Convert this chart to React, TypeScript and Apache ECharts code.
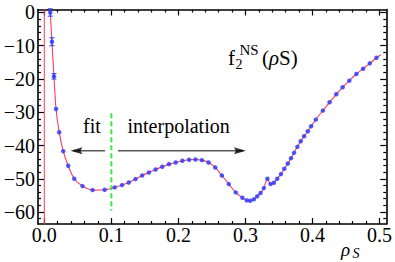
import { useEffect, useRef } from "react";
import * as echarts from "echarts";

// ---- data ----
const rhoS = [
  0.0089, 0.0114, 0.0144, 0.0175, 0.0222, 0.0282, 0.0357, 0.0447, 0.057, 0.072,
  0.09, 0.105, 0.116, 0.126, 0.136, 0.146, 0.156, 0.166, 0.176, 0.186,
  0.196, 0.206, 0.216, 0.2255, 0.235, 0.245, 0.255, 0.2648, 0.2752, 0.2855,
  0.2955, 0.302, 0.307, 0.3125, 0.3175, 0.3225, 0.3275, 0.3328, 0.3375, 0.3425,
  0.3475, 0.353, 0.358, 0.3632, 0.368, 0.3725, 0.3775, 0.3825, 0.3875, 0.393,
  0.398, 0.405, 0.4155, 0.4255, 0.4355, 0.445, 0.455, 0.4655, 0.4755, 0.4855,
  0.4955,
];
const f2 = [
  0.0, -8.8, -19.2, -29.0, -36.0, -41.7, -46.1, -50.0, -52.2, -53.4,
  -53.3, -52.6, -51.9, -51.1, -50.1, -49.0, -48.1, -47.2, -46.4, -45.6,
  -45.1, -44.6, -44.3, -44.2, -44.4, -45.1, -46.6, -49.0, -51.6, -54.1,
  -55.7, -56.5, -56.6, -56.2, -55.3, -54.3, -52.8, -50.0, -51.6, -51.2,
  -50.0, -48.6, -47.0, -45.4, -43.8, -42.2, -40.4, -38.7, -37.2, -35.7,
  -34.2, -32.2, -29.5, -27.0, -24.6, -22.5, -20.5, -18.5, -16.9, -15.3,
  -13.6,
];
const errRho = [0.0089, 0.0114, 0.0144];
const errLow = [-1.1, -10.0, -20.0];
const errHigh = [1.1, -7.6, -18.4];
const curveStart = [0.0086, 2];
const curveEnd = [0.502, -12.7];
const poleRho = 0;
const poleRange = [2, -70];
const splitRho = 0.1;
const splitRange = [-30.3, -59.6];
const arrowLevel = -41.6;
const fitArrow = [0.0905, 0.039];
const interpArrow = [0.11, 0.3008];

const xMajor = [0, 0.1, 0.2, 0.3, 0.4, 0.5];
const xMinor = [
  0.02, 0.04, 0.06, 0.08, 0.12, 0.14, 0.16, 0.18, 0.22, 0.24,
  0.26, 0.28, 0.32, 0.34, 0.36, 0.38, 0.42, 0.44, 0.46, 0.48,
];
const yMajor = [-60, -50, -40, -30, -20, -10, 0];
const yMinor = [
  -62, -58, -56, -54, -52, -48, -46, -44, -42, -38, -36, -34, -32,
  -28, -26, -24, -22, -18, -16, -14, -12, -8, -6, -4, -2,
];

const X_MIN = -0.0094;
const X_MAX = 0.5101;
const Y_MIN = -63.6;
const Y_MAX = 0.9;

const SERIF = "'Liberation Serif', 'Times New Roman', serif";
const RED = "#ff3a5c";
const BLUE = "#2536ff";

function xAxisDef(position: string, ticks: number[], len: number, labels: boolean, line: boolean) {
  return {
    type: "value",
    position,
    min: X_MIN,
    max: X_MAX,
    axisLine: { show: line, onZero: false, lineStyle: { color: "#000", width: 1.6 } },
    axisTick: { show: true, inside: true, length: len, customValues: ticks, lineStyle: { color: "#000", width: 1.2 } },
    axisLabel: {
      show: labels,
      customValues: ticks,
      margin: 1,
      color: "#000",
      fontFamily: SERIF,
      fontSize: 20,
      formatter: (v: number) => v.toFixed(1),
    },
    splitLine: { show: false },
    minorTick: { show: false },
  };
}

function yAxisDef(position: string, ticks: number[], len: number, labels: boolean, line: boolean) {
  return {
    type: "value",
    position,
    min: Y_MIN,
    max: Y_MAX,
    axisLine: { show: line, onZero: false, lineStyle: { color: "#000", width: 1.6 } },
    axisTick: { show: true, inside: true, length: len, customValues: ticks, lineStyle: { color: "#000", width: 1.2 } },
    axisLabel: {
      show: labels,
      customValues: ticks,
      margin: 3,
      color: "#000",
      fontFamily: SERIF,
      fontSize: 20,
      formatter: (v: number) => (v === 0 ? "0" : (v < 0 ? "\u2212" : "") + Math.abs(v)),
    },
    splitLine: { show: false },
    minorTick: { show: false },
  };
}

function txt(x: number, y: number, text: string, fontSize: number, italic = false) {
  return {
    type: "text",
    x,
    y,
    silent: true,
    style: {
      text,
      fill: "#000",
      fontSize,
      fontFamily: SERIF,
      fontStyle: italic ? "italic" : "normal",
      align: "left",
      verticalAlign: "middle",
    },
  };
}

export default function App() {
  const ref = useRef<HTMLDivElement>(null);

  useEffect(() => {
    if (!ref.current) return;
    const chart = echarts.init(ref.current, undefined, { renderer: "svg" });

    const points = rhoS.map((x, i) => [x, f2[i]]);
    const curve = [curveStart, ...points, curveEnd];
    const errData = errRho.map((x, i) => [x, errLow[i], errHigh[i]]);

    const option = {
      animation: false,
      grid: { left: 38, right: 7.5, top: 9.5, bottom: 38, containLabel: false },
      xAxis: [
        xAxisDef("bottom", xMajor, 6, true, true),
        xAxisDef("bottom", xMinor, 3, false, false),
        xAxisDef("top", xMajor, 6, false, true),
        xAxisDef("top", xMinor, 3, false, false),
      ],
      yAxis: [
        yAxisDef("left", yMajor, 6, true, true),
        yAxisDef("left", yMinor, 3, false, false),
        yAxisDef("right", yMajor, 6, false, true),
        yAxisDef("right", yMinor, 3, false, false),
      ],
      series: [
        {
          type: "line",
          data: [[poleRho, poleRange[0]], [poleRho, poleRange[1]]],
          symbol: "none",
          lineStyle: { color: RED, width: 1 },
          silent: true,
          z: 2,
        },
        {
          type: "line",
          data: curve,
          smooth: 0.3,
          symbol: "none",
          lineStyle: { color: RED, width: 1.1 },
          silent: true,
          z: 2,
        },
        {
          type: "line",
          data: [[splitRho, splitRange[0]], [splitRho, splitRange[1]]],
          symbol: "none",
          lineStyle: { color: "#3fe83f", width: 2, type: [5, 3] },
          silent: true,
          z: 3,
        },
        {
          type: "line",
          data: [[fitArrow[0], arrowLevel], [fitArrow[1] + 0.004, arrowLevel]],
          symbol: "none",
          lineStyle: { color: "#000", width: 1 },
          silent: true,
          z: 3,
        },
        {
          type: "line",
          data: [[interpArrow[0], arrowLevel], [interpArrow[1] - 0.004, arrowLevel]],
          symbol: "none",
          lineStyle: { color: "#000", width: 1 },
          silent: true,
          z: 3,
        },
        {
          type: "scatter",
          silent: true,
          z: 4,
          itemStyle: { color: "#000" },
          data: [
            {
              value: [fitArrow[1], arrowLevel],
              symbol: "path://M12,0 L0,4 L12,8 L10,4 Z",
              symbolSize: [12, 7],
              symbolOffset: ["50%", 0],
            },
            {
              value: [interpArrow[1], arrowLevel],
              symbol: "path://M0,0 L12,4 L0,8 L2,4 Z",
              symbolSize: [12, 7],
              symbolOffset: ["-50%", 0],
            },
          ],
        },
        {
          type: "custom",
          data: errData,
          silent: true,
          z: 5,
          renderItem: (_params: any, api: any) => {
            const x = api.value(0);
            const lo = api.coord([x, api.value(1)]);
            const hi = api.coord([x, api.value(2)]);
            const w = 2.5;
            const st = { stroke: BLUE, lineWidth: 1 };
            return {
              type: "group",
              children: [
                { type: "line", shape: { x1: lo[0], y1: lo[1], x2: hi[0], y2: hi[1] }, style: st },
                { type: "line", shape: { x1: lo[0] - w, y1: lo[1], x2: lo[0] + w, y2: lo[1] }, style: st },
                { type: "line", shape: { x1: hi[0] - w, y1: hi[1], x2: hi[0] + w, y2: hi[1] }, style: st },
              ],
            };
          },
        },
        {
          type: "scatter",
          data: points,
          symbol: "circle",
          symbolSize: 4.5,
          itemStyle: { color: BLUE },
          silent: true,
          z: 6,
        },
      ],
      graphic: [
        txt(83, 125.5, "fit", 20),
        txt(127.5, 125.5, "interpolation", 20),
        txt(228, 58.4, "f", 21),
        txt(235.5, 64.7, "2", 14),
        txt(239.5, 49.6, "NS", 15),
        {
          type: "text",
          x: 262,
          y: 58.4,
          silent: true,
          style: {
            text: "{p|(}{r|\u03C1}{s|S}{p|)}",
            fill: "#000",
            fontSize: 21,
            fontFamily: SERIF,
            align: "left",
            verticalAlign: "middle",
            rich: {
              p: { fontSize: 21, fontFamily: SERIF, fill: "#000" },
              r: { fontSize: 21, fontFamily: SERIF, fontStyle: "italic", fill: "#000" },
              s: { fontSize: 21, fontFamily: SERIF, fill: "#000" },
            },
          },
        },
        txt(341, 249, "\u03C1", 19, true),
        txt(352.5, 253.2, "S", 14, true),
      ],
    };

    chart.setOption(option as any);
    return () => chart.dispose();
  }, []);

  return <div ref={ref} style={{ width: 395, height: 262, position: "absolute", left: 0, top: 0 }} />;
}
